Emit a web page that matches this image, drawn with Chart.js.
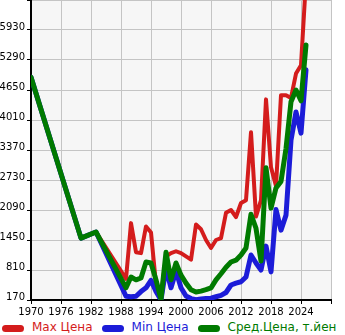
<!DOCTYPE html>
<html>
<head>
<meta charset="utf-8">
<script src="https://cdn.jsdelivr.net/npm/chart.js@4/dist/chart.umd.min.js"></script>
<style>
  html, body { margin: 0; padding: 0; background: #ffffff; }
  #wrap { position: relative; width: 345px; height: 335px; overflow: hidden; font-family: "DejaVu Sans", sans-serif; }
  #chart { position: absolute; left: 0; top: 0; }
  #legend { position: absolute; left: 2px; top: 320px; height: 14px; display: flex; align-items: center; white-space: nowrap; font-size: 12px; line-height: 14px; }
  .item { display: flex; align-items: center; margin-right: 9px; }
  .mark { width: 22px; height: 7px; border-radius: 3.5px; margin-right: 8px; margin-top: 2px; }
</style>
</head>
<body>
<div id="wrap">
  <canvas id="chart" width="345" height="318"></canvas>
  <div id="legend"></div>
</div>
<script>
// Price history by model year (thousand yen)
const years = [1970, 1980, 1983, 1989, 1990, 1991, 1992, 1993, 1994, 1995, 1996, 1997, 1998, 1999,
  2000, 2001, 2002, 2003, 2004, 2005, 2006, 2007, 2008, 2009, 2010, 2011, 2012, 2013, 2014,
  2015, 2016, 2017, 2018, 2019, 2020, 2021, 2022, 2023, 2024, 2025];

const maxPrice = [4920, 1490, 1620, 620, 1810, 1190, 1170, 1740, 1610, 500, 250, 1100, 1170, 1210,
  1170, 1100, 1030, 1780, 1680, 1450, 1280, 1450, 1490, 2030, 2090, 1940, 2240, 2300, 3750,
  1950, 2300, 4450, 3000, 2600, 4540, 4540, 4480, 5000, 5180, 7000];

const minPrice = [4920, 1490, 1620, 250, 240, 250, 350, 430, 590, 350, 170, 850, 430, 790,
  430, 255, 200, 175, 190, 200, 210, 240, 270, 330, 490, 530, 560, 660, 1130,
  960, 810, 1320, 770, 2100, 1660, 1980, 3580, 4180, 3730, 5080];

const avgPrice = [4920, 1490, 1620, 430, 660, 600, 640, 980, 960, 600, 190, 1190, 600, 960,
  700, 530, 390, 340, 360, 390, 430, 600, 730, 870, 980, 1020, 1130, 1280, 2000,
  1700, 1000, 2990, 2130, 2560, 2700, 3400, 4400, 4650, 4420, 5610];

const seriesNames = ['Max Цена', 'Min Цена', 'Сред.Цена, т.йен'];
const seriesColors = ['#d41c1c', '#1c1cd8', '#007a00'];

// Axis ranges and tick steps
const yMin = 170, yMax = 6570, yStep = 640;
const xMin = 1970, xMax = 2030, xStep = 6;

const toPoints = (vals) => years.map((yr, i) => ({ x: yr, y: vals[i] }));

const plotBackground = {
  id: 'plotBackground',
  beforeDraw(chart) {
    const { ctx, chartArea: a } = chart;
    ctx.save();
    ctx.fillStyle = '#f6f6f6';
    ctx.fillRect(a.left, a.top, a.right - a.left, a.bottom - a.top);
    ctx.restore();
  }
};

const tickFont = { family: 'DejaVu Sans', size: 10 };

const chart = new Chart(document.getElementById('chart'), {
  type: 'line',
  data: {
    datasets: [
      { label: seriesNames[0], data: toPoints(maxPrice), borderColor: seriesColors[0], borderWidth: 4, order: 2 },
      { label: seriesNames[1], data: toPoints(minPrice), borderColor: seriesColors[1], borderWidth: 5, order: 1 },
      { label: seriesNames[2], data: toPoints(avgPrice), borderColor: seriesColors[2], borderWidth: 5, order: 0 }
    ].map(d => Object.assign(d, {
      pointRadius: 0, tension: 0, fill: false,
      borderJoinStyle: 'round', borderCapStyle: 'round'
    }))
  },
  options: {
    responsive: false,
    animation: false,
    layout: { padding: { left: 0, right: 14, top: 0, bottom: 0 } },
    plugins: { legend: { display: false }, tooltip: { enabled: false } },
    scales: {
      x: {
        type: 'linear', min: xMin, max: xMax,
        afterFit(scale) {
          scale.height = 18;
          scale.paddingLeft = 0; scale.paddingRight = 0;
        },
        ticks: {
          stepSize: xStep, autoSkip: false, maxRotation: 0, padding: 2,
          color: '#000', font: tickFont,
          callback: v => (v >= xMax ? '' : String(v))
        },
        grid: { color: '#c4c4c4', lineWidth: 1, tickLength: 4, tickColor: '#000' },
        border: { color: '#000', width: 2 }
      },
      y: {
        type: 'linear', min: yMin, max: yMax,
        afterFit(scale) {
          scale.width = 31;
          scale.paddingTop = 0; scale.paddingBottom = 0;
        },
        ticks: {
          stepSize: yStep, padding: 2, labelOffset: -3,
          color: '#000', font: tickFont,
          callback: v => (Math.round(v) >= yMax ? '' : String(Math.round(v)))
        },
        grid: { color: '#c4c4c4', lineWidth: 1, tickLength: 4, tickColor: '#000' },
        border: { color: '#000', width: 2 }
      }
    }
  },
  plugins: [plotBackground]
});

// Legend built from the chart's datasets
const legend = document.getElementById('legend');
chart.data.datasets.forEach(ds => {
  const item = document.createElement('div');
  item.className = 'item';
  const mark = document.createElement('span');
  mark.className = 'mark';
  mark.style.background = ds.borderColor;
  const text = document.createElement('span');
  text.textContent = ds.label;
  text.style.color = ds.borderColor;
  item.appendChild(mark);
  item.appendChild(text);
  legend.appendChild(item);
});
</script>
</body>
</html>
